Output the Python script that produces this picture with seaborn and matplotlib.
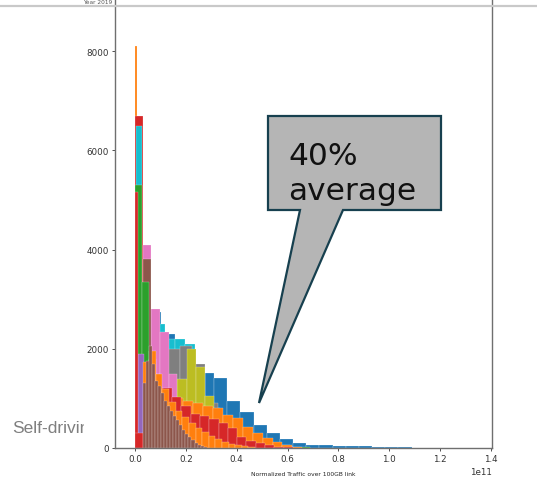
import numpy as np
import pandas as pd
import matplotlib
matplotlib.use("Agg")
import matplotlib.pyplot as plt
import seaborn as sns
from matplotlib.patches import Polygon
from matplotlib.lines import Line2D
from matplotlib.transforms import Bbox, TransformedBbox

# ---------------- data (x in units of 1e10 bytes, counts per bin) ----------------
series_names = ["blue_wide", "orange_spike", "green_tail", "red_tall", "cyan_tall",
                "cyan_mid", "gray", "olive", "pink", "brown_mid",
                "green_tall", "purple", "red_spike", "orange_wide", "red_tail",
                "orange_mid", "brown_fine"]
bin_starts = [0.0, 0.0, 0.2, 0.0, 0.04, 0.02, 0.26, 0.23, 0.3, 0.3,
              0.0, 0.1, 0.0, 0.34, 0.0, 0.3, 0.3]
bin_widths = [0.518, 0.06, 0.392, 0.3, 0.22, 0.39, 0.5, 0.36, 0.34, 0.34,
              0.28, 0.24, 0.1, 0.39, 0.365, 0.26, 0.12]

blue_wide = [2900, 2740, 2300, 1950, 1700, 1512, 1411, 948, 726, 464, 302, 181,
             100, 70, 60, 50, 40, 35, 25, 20, 15, 10]
orange_spike = [8100]
green_tail = [600, 900, 1000, 1050, 1050, 1000, 900, 800, 650, 484, 383, 282,
              181, 100, 60, 30, 15]
red_tall = [6690, 2500, 1100, 500, 250, 120, 60, 30, 15]
cyan_tall = [6490, 2800, 1200, 500, 200, 80]
cyan_mid = [3000, 2700, 2500, 2200, 2200, 2100, 1700, 600, 300, 150, 60]
gray = [1800, 1900, 1990, 2056, 1700, 900, 500, 200, 80]
olive = [2000, 2660, 2200, 1300, 1400, 2000, 1630, 1050, 500, 250, 100, 40]
pink = [4090, 2800, 2330, 1500, 800, 400, 200, 80]
brown_mid = [3810, 1500, 800, 400, 200]
green_tall = [5300, 3350, 1800, 1000, 500, 250, 120, 50]
purple = [1900, 1300, 800, 450, 250, 120, 60, 30, 15]
red_spike = [5160]
orange_wide = [400, 700, 900, 1000, 950, 900, 850, 806, 665, 605, 420, 300, 200,
               120, 60, 30]
red_tail = [300, 900, 1200, 1200, 1028, 847, 685, 650, 585, 504, 400, 222, 141,
            100, 60, 30, 15]
orange_mid = [1734, 1955, 1490, 1190, 927, 750, 620, 500, 400, 320, 250, 180, 130,
              90, 60, 35, 20]
brown_fine = [1300, 1750, 2050, 1700, 1350, 1250, 1100, 950, 850, 750, 650, 560,
              460, 370, 290, 220, 160, 110, 70, 40, 20]

series_counts = [blue_wide, orange_spike, green_tail, red_tall, cyan_tall, cyan_mid,
                 gray, olive, pink, brown_mid, green_tall, purple, red_spike,
                 orange_wide, red_tail, orange_mid, brown_fine]

x_ticks = [0.0, 0.2, 0.4, 0.6, 0.8, 1.0, 1.2, 1.4]   # x 1e11
y_ticks = [0, 2000, 4000, 6000, 8000]
x_label = "Normalized Traffic over 100GB link"
callout_lines = ["40%", "average"]
side_text = "Self-driving"
cut_title = "Year 2019"

# ---------------- styles ----------------
tab = sns.color_palette("tab10")
series_colors = [tab[0], tab[1], tab[2], tab[3], tab[9], tab[9], tab[7], tab[8],
                 tab[6], tab[5], tab[2], tab[4], tab[3], tab[1], tab[3], tab[1],
                 tab[5]]

sns.set_style("white")
plt.rcParams["font.family"] = ["DejaVu Sans"]

W, H = 537, 481
fig = plt.figure(figsize=(W / 100, H / 100), dpi=100)
fig.patch.set_facecolor("white")

def fx(px):
    return px / W

def fy(py):
    return 1 - py / H

ax_left, ax_right, ax_bottom = 115, 492, 449
ax = fig.add_axes([fx(ax_left), fy(ax_bottom), (ax_right - ax_left) / W, ax_bottom / H])

for name, s, w, cnt, col in zip(series_names, bin_starts, bin_widths, series_counts, series_colors):
    edges = (s + w * np.arange(len(cnt) + 1)) * 1e10
    centers = (edges[:-1] + edges[1:]) / 2
    df = pd.DataFrame({"traffic": centers, "count": cnt})
    sns.histplot(data=df, x="traffic", weights="count", bins=list(edges), color=col,
                 alpha=1.0, ax=ax, edgecolor=(1, 1, 1, 0.45), linewidth=0.35)

# axes scales
px_per_1e11 = (491 - 135) / 1.4
ax.set_xlim(-(135 - ax_left) / px_per_1e11 * 1e11, (ax_right - 135) / px_per_1e11 * 1e11)
px_per_count = (449 - 52) / 8000
ax.set_ylim(0, ax_bottom / px_per_count)
ax.set_xticks([t * 1e11 for t in x_ticks])
ax.set_yticks(y_ticks)
ax.set_ylabel("")
ax.set_xlabel(x_label, fontsize=4.3, color="#222222", labelpad=6)
ax.tick_params(axis="both", labelsize=6.3, colors="#333333", length=2.4, width=0.6,
               direction="out", bottom=True, left=True, pad=1.8)
ax.xaxis.get_offset_text().set_fontsize(6.3)
ax.xaxis.get_offset_text().set_color("#333333")
for side in ["left", "right", "bottom"]:
    ax.spines[side].set_color("#6f6f6f")
    ax.spines[side].set_linewidth(1.0)
ax.spines["top"].set_visible(False)

# slide frame line near top
fig.add_artist(Line2D([0, 1], [fy(7), fy(7)], transform=fig.transFigure,
                      color="#c9c9c9", lw=1.6, zorder=0.5))

# small title at the very top
fig.text(fx(98), fy(0.3), cut_title, fontsize=4.2, color="#555555",
         ha="center", va="top")

# side text clipped at the chart image edge
t = fig.text(fx(12), fy(433), side_text, fontsize=12.5, color="#7f7f7f",
             ha="left", va="baseline", family=["Liberation Sans", "DejaVu Sans"])
t.set_clip_box(TransformedBbox(Bbox([[0, 0], [fx(84), 1]]), fig.transFigure))
t.set_clip_on(True)

# callout
pts_px = [(268, 117), (441, 117), (441, 211), (343, 211), (259, 404), (300, 211), (268, 211)]
poly = Polygon([(fx(x), fy(y)) for x, y in pts_px], closed=True, transform=fig.transFigure,
               facecolor="#b5b5b5", edgecolor="#17404f", lw=1.6, zorder=10)
fig.add_artist(poly)
fig.text(fx(288), fy(165), callout_lines[0], fontsize=22.5, color="#111111",
         ha="left", va="baseline", family=["DejaVu Sans"], zorder=11)
fig.text(fx(288), fy(200), callout_lines[1], fontsize=22.5, color="#111111",
         ha="left", va="baseline", family=["DejaVu Sans"], zorder=11)

fig.savefig("out.png", dpi=100)
